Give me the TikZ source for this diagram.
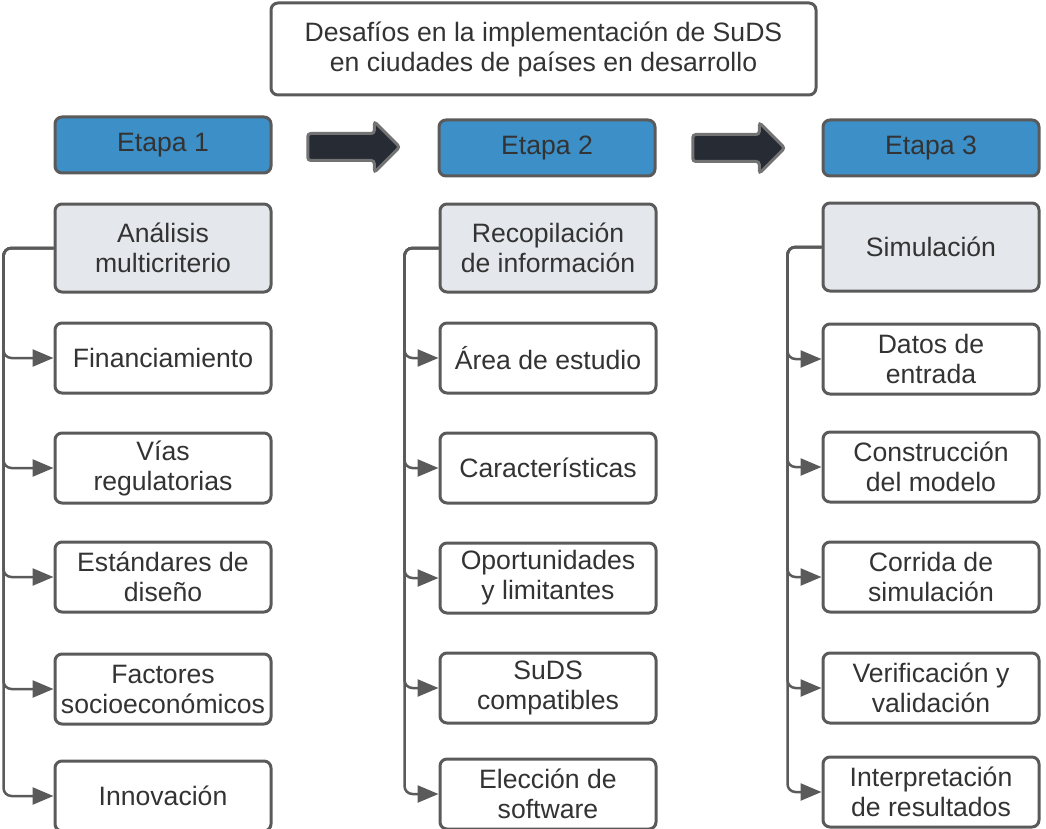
\documentclass[tikz,border=0pt]{standalone}
\usepackage{fontspec}
\setmainfont{Liberation Sans}
\usetikzlibrary{shapes.arrows,arrows.meta}

\definecolor{etapablue}{HTML}{3C8FC7}
\definecolor{boxgray}{HTML}{E4E7EB}
\definecolor{linegray}{HTML}{5A5A5A}
\definecolor{arrowdark}{HTML}{272B33}
\definecolor{txtgray}{HTML}{333333}

\tikzset{
  box/.style={draw=linegray, line width=3pt, rounded corners=7pt, minimum width=216pt,
    minimum height=70pt, align=center, text=txtgray, inner sep=2pt,
    font=\fontsize{26.6}{30}\selectfont},
  etapa/.style={box, fill=etapablue, minimum height=56pt},
  grisbox/.style={box, fill=boxgray, minimum height=88pt},
  hoja/.style={box, fill=white},
  conn/.style={draw=linegray, line width=2.5pt, rounded corners=8pt,
    -{Triangle[length=21pt,width=17pt]}},
  flecha/.style={single arrow, draw=linegray!85, fill=arrowdark, line width=3pt,
    minimum height=92pt, inner xsep=0pt, inner ysep=12pt,
    single arrow head extend=12pt, rounded corners=3pt},
}

\begin{document}
\begin{tikzpicture}[x=1pt,y=-1pt]
  \useasboundingbox (0,0) rectangle (1046,829);

  \node[hoja, minimum width=545pt, minimum height=92pt] (titulo) at (543.5,49)
    {Desafíos en la implementación de SuDS\\en ciudades de países en desarrollo};

  % etapas
  \node[etapa] (e1) at (163,145) {Etapa 1};
  \node[etapa] (e2) at (547,148) {Etapa 2};
  \node[etapa] (e3) at (931,148) {Etapa 3};
  \node[flecha] (f1) at (347,147) {};
  \node[flecha] (f2) at (732,148) {};

  \node[grisbox] (gA) at (163,248) {Análisis\\multicriterio};
  \node[grisbox] (gB) at (548,248) {Recopilación\\de información};
  \node[grisbox] (gC) at (931,247) {Simulación};

  % etapa 1
  \foreach \txt/\y [count=\i] in {Financiamiento/358, {Vías\\regulatorias}/468,
      {Estándares de\\diseño}/577, {Factores\\socioeconómicos}/689, Innovación/796} {
    \node[hoja] (a\i) at (163,\y) {\txt};
    \draw[conn] (gA.west) -- ++(-50,0) |- (a\i.west);
  }

  % etapa 2
  \foreach \txt/\y [count=\i] in {Área de estudio/358, Características/468,
      {Oportunidades\\y limitantes}/578, {SuDS\\compatibles}/688,
      {Elección de\\software}/794} {
    \node[hoja] (b\i) at (548,\y) {\txt};
    \draw[conn] (gB.west) -- ++(-34,0) |- (b\i.west);
  }

  % etapa 3
  \foreach \txt/\y [count=\i] in {{Datos de\\entrada}/359, {Construcción\\del modelo}/467,
      {Corrida de\\simulación}/577, {Verificación y\\validación}/688,
      {Interpretación\\de resultados}/792} {
    \node[hoja] (c\i) at (931,\y) {\txt};
    \draw[conn] (gC.west) -- ++(-34,0) |- (c\i.west);
  }
\end{tikzpicture}
\end{document}
